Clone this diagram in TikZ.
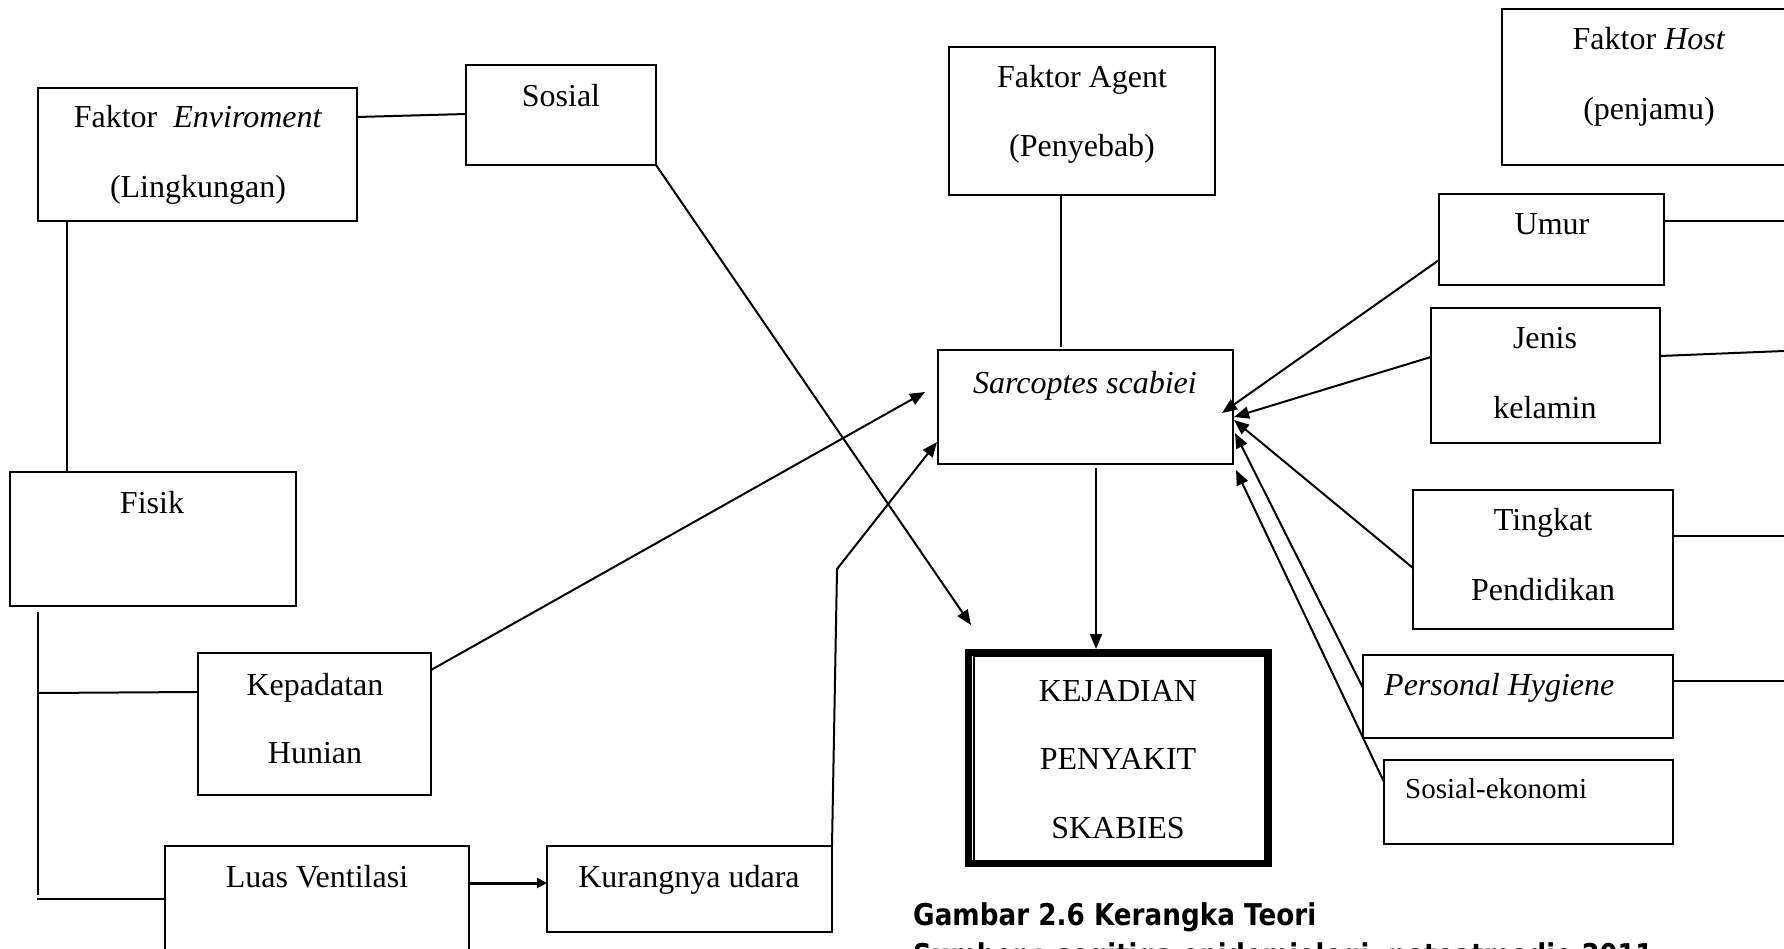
\documentclass[tikz,border=0pt]{standalone}
\usepackage{fontspec}
\usepackage{graphicx}
\setmainfont{Liberation Serif}
\newfontfamily\capfont{DejaVu Sans}
\usetikzlibrary{arrows.meta,calc}

\begin{document}
\begin{tikzpicture}[x=1pt,y=-1pt,
  box/.style={draw, line width=2.2pt, inner sep=0pt, outer sep=0pt},
  txt/.style={inner sep=0pt, anchor=base, font=\fontsize{32}{38}\selectfont},
  txtl/.style={txt, anchor=base west},
  link/.style={line width=2pt},
  arr/.style={line width=2pt, -{Triangle[length=15pt,width=12pt]}},
  captext/.style={inner sep=0pt, anchor=base west, font=\capfont\bfseries\fontsize{30}{36}\selectfont}
]
\useasboundingbox (0,0) rectangle (1784,949);
\clip (0,0) rectangle (1784,949);

% environment branch
\node[box, minimum width=319pt, minimum height=133pt] (env) at (197.5,154.5) {};
\node[box, minimum width=190pt, minimum height=100pt] (sosial) at (561,115) {};
\node[box, minimum width=286pt, minimum height=134pt] (fisik) at (153,539) {};
\node[box, minimum width=233pt, minimum height=142pt] (kep) at (314.5,724) {};
\node[box, minimum width=304pt, minimum height=130pt] (luas) at (317,911) {};
\node[box, minimum width=285pt, minimum height=86pt] (kur) at (689.5,889) {};

% agent
\node[box, minimum width=266pt, minimum height=148pt] (agent) at (1082,121) {};
\node[box, minimum width=295pt, minimum height=114pt] (sarc) at (1085.5,407) {};

% outcome
\node[draw, line width=7pt, minimum width=300pt, minimum height=211pt, inner sep=0pt] (kej) at (1118.5,758) {};
\draw[line width=2pt] ([xshift=8.5pt,yshift=-6.5pt]kej.north west) rectangle ([xshift=-7.5pt,yshift=6.5pt]kej.south east);

% host branch
\node[box, minimum width=298pt, minimum height=156pt] (host) at (1651,87) {};
\node[box, minimum width=225pt, minimum height=91pt] (umur) at (1551.5,239.5) {};
\node[box, minimum width=229pt, minimum height=135pt] (jenis) at (1545.5,375.5) {};
\node[box, minimum width=260pt, minimum height=139pt] (ting) at (1543,559.5) {};
\node[box, minimum width=310pt, minimum height=83pt] (ph) at (1518,696.5) {};
\node[box, minimum width=289pt, minimum height=84pt] (sosek) at (1528.5,802) {};

% texts
\node[txt] at (198,128) {Faktor\ \ \textit{Enviroment}};
\node[txt] at (198,198) {(Lingkungan)};
\node[txt] at (561,107) {Sosial};
\node[txt] at (152,513) {Fisik};
\node[txt] at (315,695) {Kepadatan};
\node[txt] at (315,763) {Hunian};
\node[txt] at (317,887) {Luas Ventilasi};
\node[txt] at (689,887) {Kurangnya udara};
\node[txt] at (1082,88) {Faktor Agent};
\node[txt] at (1082,157) {(Penyebab)};
\node[txt] at (1085,393) {\textit{Sarcoptes scabiei}};
\node[txt] at (1118,701) {KEJADIAN};
\node[txt] at (1118,769) {PENYAKIT};
\node[txt] at (1118,838) {SKABIES};
\node[txt] at (1649,50) {Faktor \textit{Host}};
\node[txt] at (1649,120) {(penjamu)};
\node[txt] at (1552,235) {Umur};
\node[txt] at (1545,348) {Jenis};
\node[txt] at (1545,418) {kelamin};
\node[txt] at (1543,530) {Tingkat};
\node[txt] at (1543,600) {Pendidikan};
\node[txtl] at (1384,695) {\textit{Personal Hygiene}};
\node[txtl, font=\fontsize{29}{34}\selectfont] at (1405,798) {Sosial-ekonomi};

% caption
\node[captext] (cap1) at (913,925) {\resizebox{403pt}{\height}{Gambar 2.6 Kerangka Teori}};
\node[captext] (cap2) at (913,965) {\resizebox{740pt}{\height}{Sumber : segitiga epidemiologi, notoatmodjo 2011}};

% free ends and arrow tips
\coordinate (kepJoin) at (38,693);
\coordinate (luasJoin) at (37,899);
\coordinate (trunkEnd) at (38,895);
\coordinate (tipSos) at (971,625);
\coordinate (tipKep) at (925,392);
\coordinate (bendKur) at (837,569);
\coordinate (tipKur) at (937,442);
\coordinate (tipUmur) at (1222,413);
\coordinate (tipJenis) at (1234,417);
\coordinate (tipTing) at (1234,420);
\coordinate (tipPh) at (1235,433);
\coordinate (tipSosek) at (1236,470);
\coordinate (edgeUmur) at (1784,221);
\coordinate (edgeJenis) at (1784,351);
\coordinate (edgeTing) at (1784,536);
\coordinate (edgePh) at (1784,681);

% connectors, environment side
\draw[link] (env.east |- 0,117) -- (sosial.west |- 0,114);
\draw[link] (env.south -| 67,0) -- (fisik.north -| 67,0);
\draw[link] ([yshift=-6pt]fisik.south -| 38,0) -- (trunkEnd);
\draw[link] (kepJoin) -- (kep.west |- 0,692);
\draw[link] (luasJoin) -- (luas.west |- 0,899);
\draw[line width=3pt, -{Triangle[length=10pt,width=10pt]}] (luas.east |- 0,883) -- (kur.west |- 0,883);
\draw[arr] (sosial.south east) -- (tipSos);
\draw[arr] (kep.east |- 0,670) -- (tipKep);
\draw[arr] (kur.north east) -- (bendKur) -- (tipKur);

% connectors, agent and outcome
\draw[line width=1.5pt] (agent.south -| 1061,0) -- ([yshift=3pt]sarc.north -| 1061,0);
\draw[arr] ([yshift=-4pt]sarc.south -| 1096,0) -- (kej.north -| 1096,0);

% connectors, host side
\draw[arr] (umur.west |- 0,260) -- (tipUmur);
\draw[arr] (jenis.west |- 0,357) -- (tipJenis);
\draw[arr] (ting.west |- 0,568) -- (tipTing);
\draw[arr] (ph.west |- 0,688) -- (tipPh);
\draw[arr] (sosek.west |- 0,782) -- (tipSosek);
\draw[link] (umur.east |- 0,221) -- (edgeUmur);
\draw[link] (jenis.east |- 0,356) -- (edgeJenis);
\draw[link] (ting.east |- 0,536) -- (edgeTing);
\draw[link] (ph.east |- 0,681) -- (edgePh);
\end{tikzpicture}
\end{document}
